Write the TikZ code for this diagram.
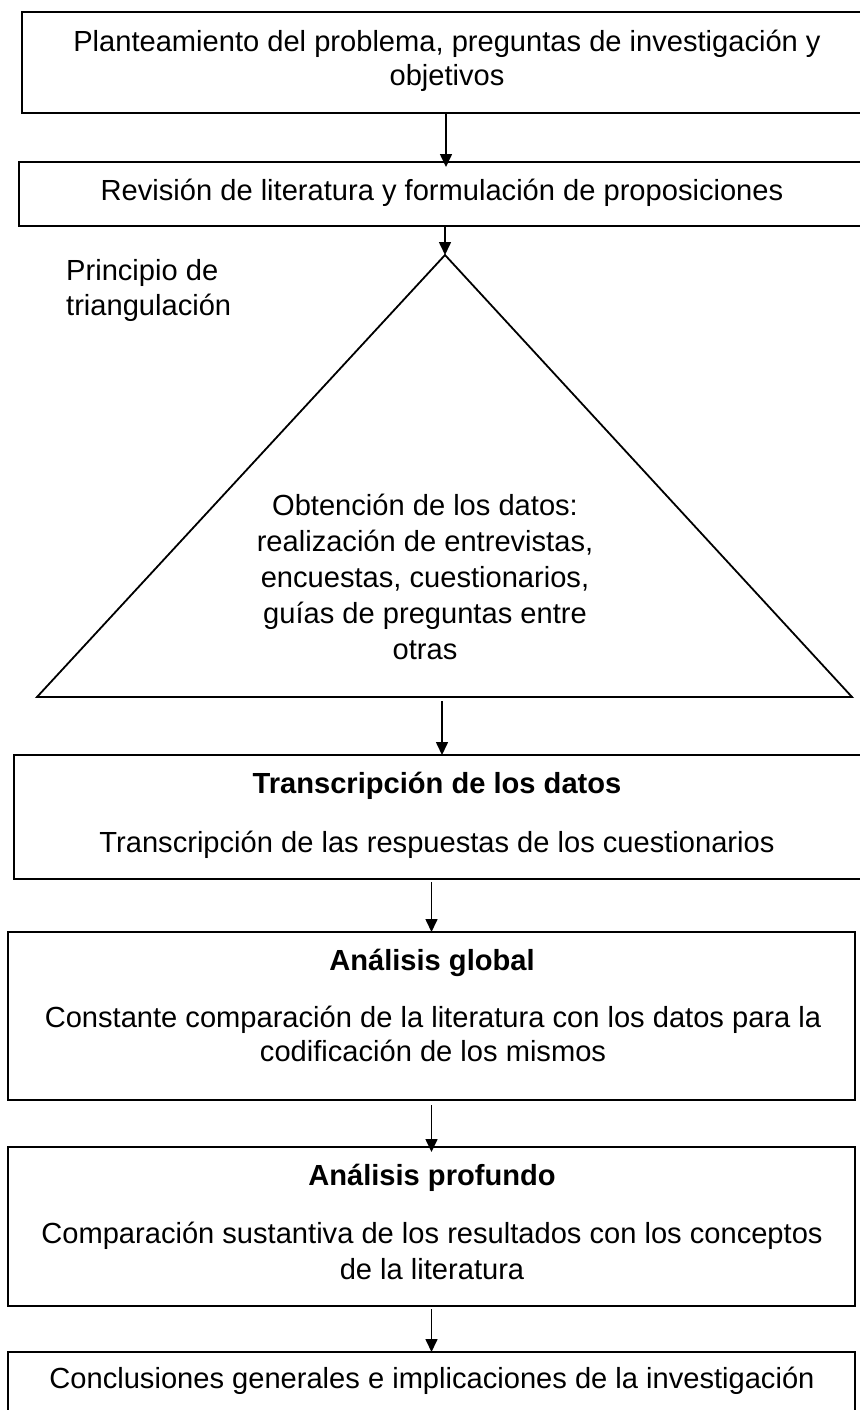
\documentclass[tikz,border=0pt]{standalone}
\usepackage{fontspec}
\setmainfont{Liberation Sans}
\usetikzlibrary{arrows.meta}
\tikzset{
  box/.style={draw, line width=1.8pt, rectangle, inner sep=0pt, outer sep=0pt, anchor=north west},
  txt/.style={anchor=base, inner sep=0pt, font=\fontsize{29.1}{35}\selectfont},
  btxt/.style={anchor=base, inner sep=0pt, font=\fontsize{29.1}{35}\selectfont\bfseries},
  arr/.style={line width=1.6pt, -{Triangle[length=13pt,width=12pt]}},
  tri/.style={draw, line width=1.8pt, line join=miter},
}
\begin{document}
\begin{tikzpicture}[x=1pt,y=-1pt]
\useasboundingbox[fill=white] (0,0) rectangle (859,1410);
% boxes
\node[box, minimum width=848pt, minimum height=101pt] (b1) at (22,12) {};
\node[box, minimum width=851pt, minimum height=64pt] (b2) at (19,162) {};
\node[box, minimum width=856pt, minimum height=124pt] (b3) at (14,755) {};
\node[box, minimum width=847pt, minimum height=168pt] (b4) at (8,932) {};
\node[box, minimum width=847pt, minimum height=159pt] (b5) at (8,1147) {};
\node[box, minimum width=847pt, minimum height=90pt] (b6) at (8,1352) {};
% triangle
\coordinate (apex) at (445,255);
\coordinate (bl) at (37,697);
\coordinate (br) at (852,697);
\draw[tri] (apex) -- (br) -- (bl) -- cycle;
\coordinate (tb) at (436,697);
% texts
\node[txt] (t1a) at (447,52) {Planteamiento del problema, preguntas de investigación y};
\node[txt] (t1b) at (447,86) {objetivos};
\node[txt] (t2) at (442,200) {Revisión de literatura y formulación de proposiciones};
\node[txt, anchor=base west] (pa) at (66,280) {Principio de};
\node[txt, anchor=base west] (pb) at (66,315) {triangulación};
\node[txt] (o1) at (425,515) {Obtención de los datos:};
\node[txt] (o2) at (425,551) {realización de entrevistas,};
\node[txt] (o3) at (425,587) {encuestas, cuestionarios,};
\node[txt] (o4) at (425,623) {guías de preguntas entre};
\node[txt] (o5) at (425,659) {otras};
\node[btxt] (t3h) at (437,793) {Transcripción de los datos};
\node[txt] (t3) at (437,852) {Transcripción de las respuestas de los cuestionarios};
\node[btxt] (t4h) at (432,970) {Análisis global};
\node[txt] (t4a) at (433,1027) {Constante comparación de la literatura con los datos para la};
\node[txt] (t4b) at (433,1061) {codificación de los mismos};
\node[btxt] (t5h) at (432,1185) {Análisis profundo};
\node[txt] (t5a) at (432,1243) {Comparación sustantiva de los resultados con los conceptos};
\node[txt] (t5b) at (432,1279) {de la literatura};
\node[txt] (t6) at (432,1388) {Conclusiones generales e implicaciones de la investigación};
% arrows
\draw[arr, shorten >=-5pt] (b1.south) -- (b1.south |- b2.north);
\draw[arr] (b2.south -| apex) -- (apex);
\draw[arr, shorten <=4pt] (b3.north |- tb) -- (b3.north);
\draw[arr, shorten <=3pt] (b4.north |- b3.south) -- (b4.north);
\draw[arr, shorten <=5pt, shorten >=-5pt] (b4.south) -- (b5.north);
\draw[arr, shorten <=3pt] (b5.south) -- (b6.north);
\end{tikzpicture}
\end{document}
